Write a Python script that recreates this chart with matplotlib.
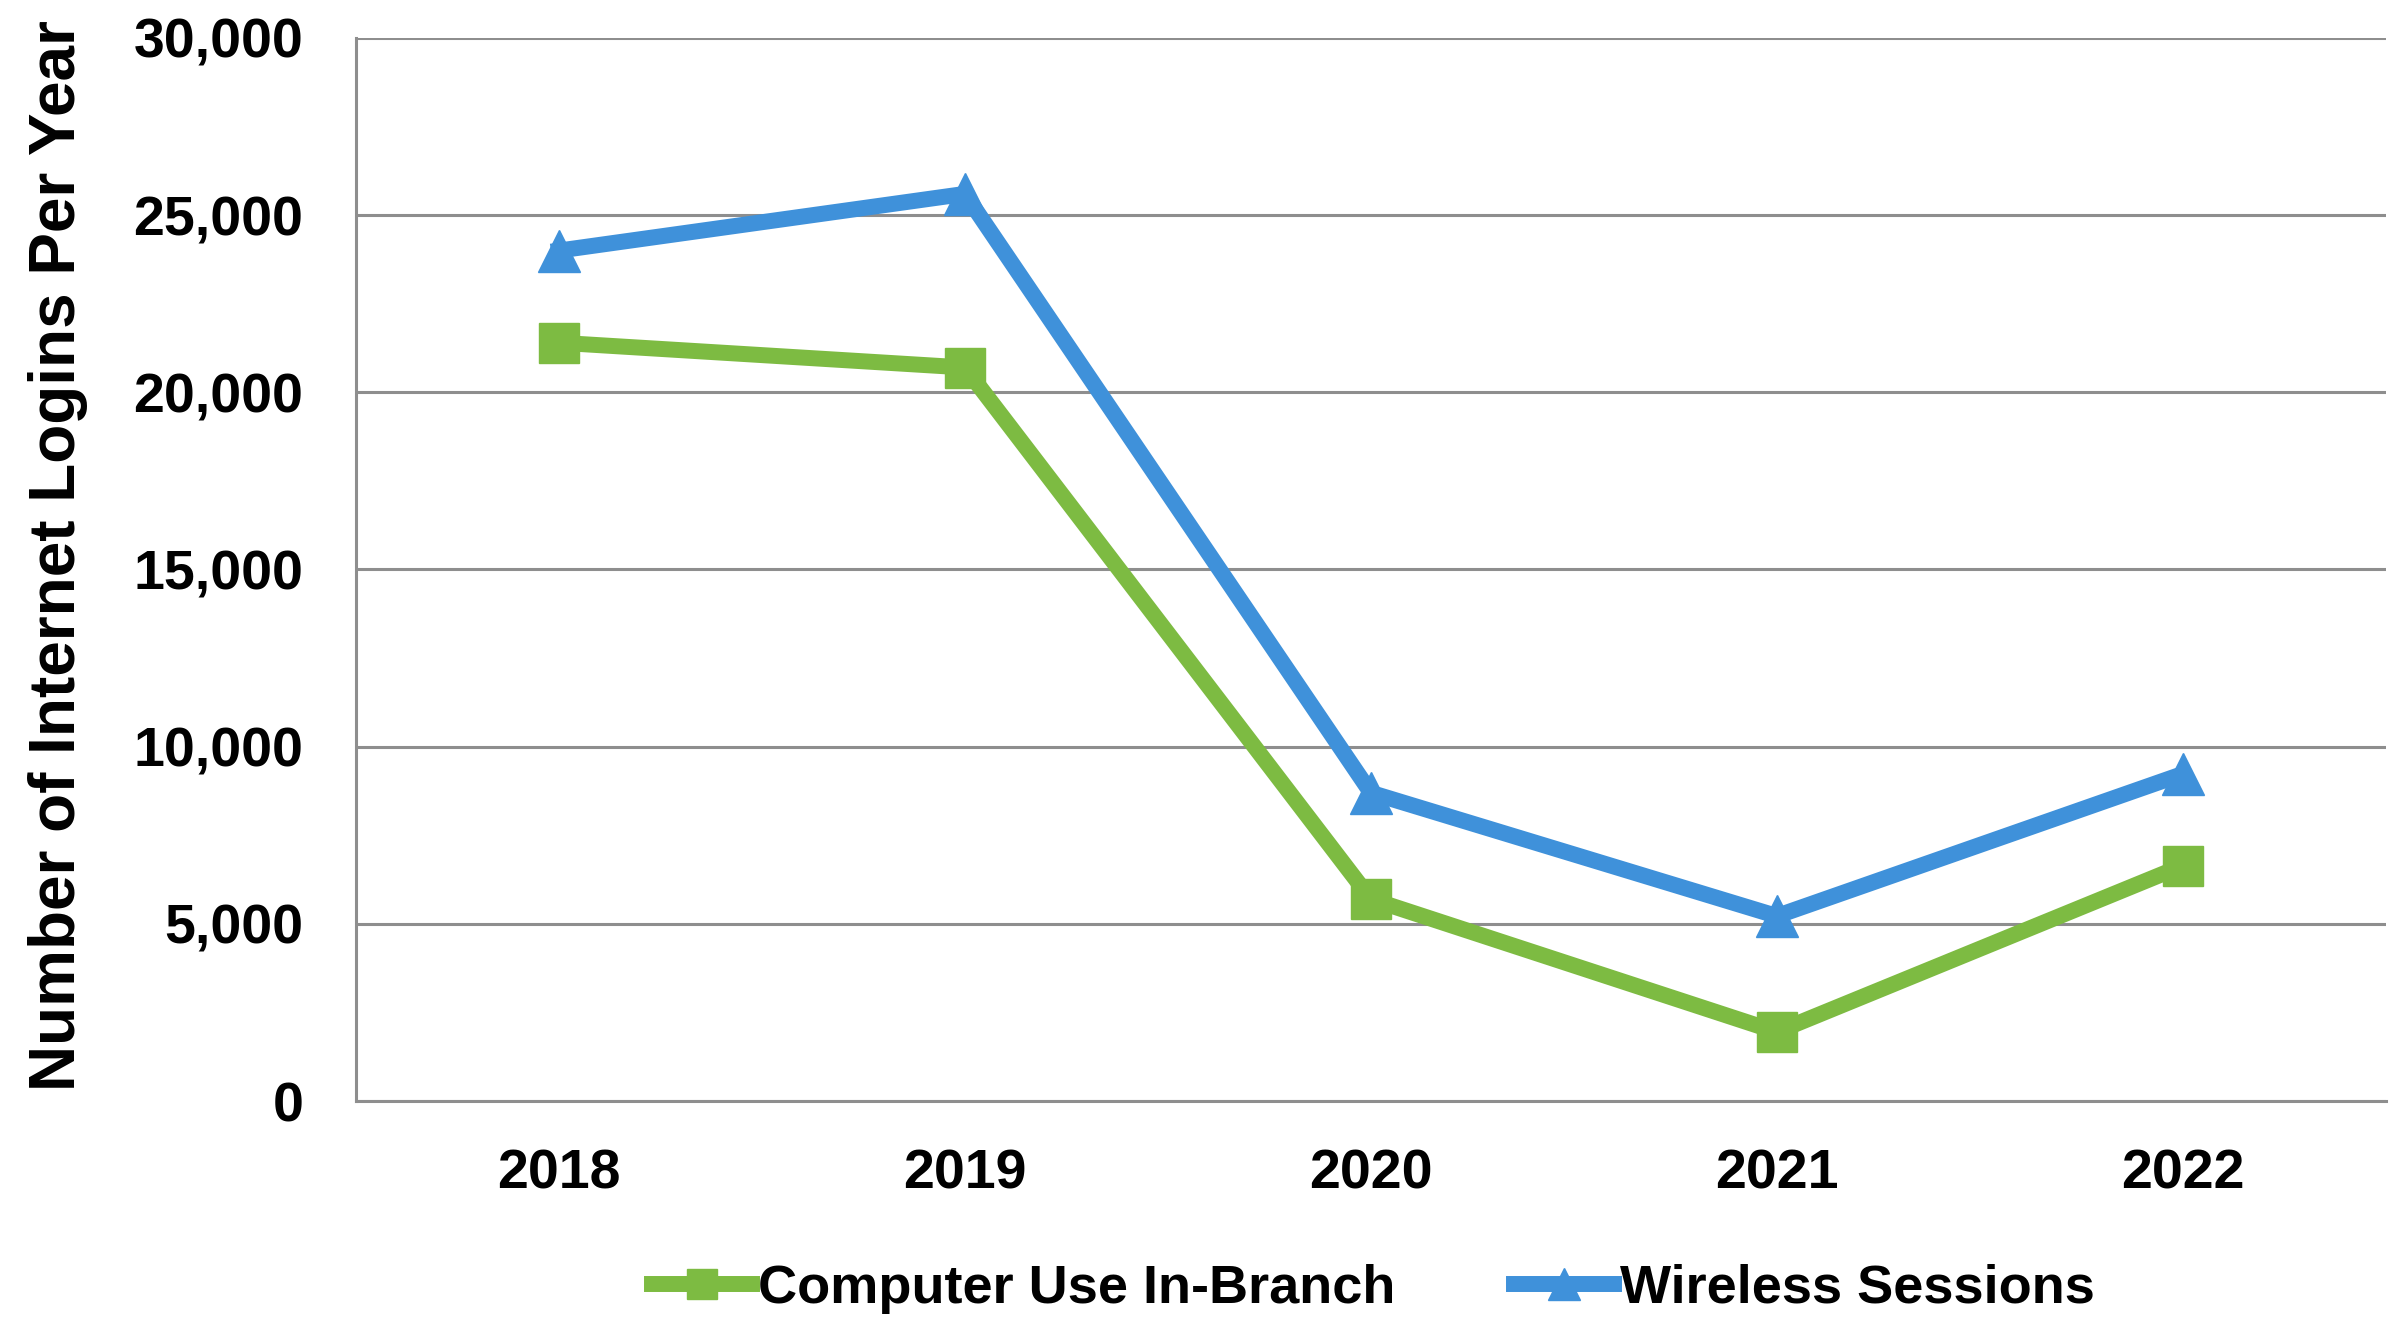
import matplotlib.pyplot as plt
from matplotlib.ticker import FuncFormatter

years = ["2018", "2019", "2020", "2021", "2022"]
computer_use = [21400, 20700, 5700, 1950, 6640]
wireless = [24000, 25600, 8700, 5220, 9230]

green = "#7DBB42"
blue = "#3F91DA"
grid_col = "#8E8E8E"

plt.rcParams['font.family'] = ['Liberation Sans', 'DejaVu Sans']
plt.rcParams['font.weight'] = 'bold'

fig = plt.figure(figsize=(24.05, 13.23), dpi=100)
ax = fig.add_axes([0.148, 0.1678, 0.844, 0.8035])

x = range(len(years))
ax.plot(x, computer_use, color=green, lw=11.5, marker="s", ms=29,
        label="Computer Use In-Branch")
ax.plot(x, wireless, color=blue, lw=11.5, marker="^", ms=30,
        label="Wireless Sessions")

ax.set_xlim(-0.5, len(years) - 0.5)
ax.set_ylim(0, 30000)
ax.set_yticks(range(0, 30001, 5000))
ax.yaxis.set_major_formatter(FuncFormatter(lambda v, p: f"{int(v):,}"))
ax.set_xticks(list(x))
ax.set_xticklabels(years)
ax.tick_params(axis="both", length=0, labelsize=40)
ax.tick_params(axis="y", pad=38)
ax.tick_params(axis="x", pad=34)

ax.grid(axis="y", color=grid_col, lw=2.2)
ax.set_axisbelow(True)
for s in ["top", "right"]:
    ax.spines[s].set_visible(False)
for s in ["left", "bottom"]:
    ax.spines[s].set_color(grid_col)
    ax.spines[s].set_linewidth(2.2)

ax.set_ylabel("Number of Internet Logins Per Year", fontsize=46,
              fontweight="bold")
ax.yaxis.set_label_coords(-0.132, 0.513)

fig.legend(loc="center", bbox_to_anchor=(0.571, 0.026), ncol=2,
           frameon=False, fontsize=39, handlelength=1.85,
           handletextpad=0.1, columnspacing=2.2, markerscale=0.75)

fig.savefig("out.png", dpi=100, facecolor="white")
